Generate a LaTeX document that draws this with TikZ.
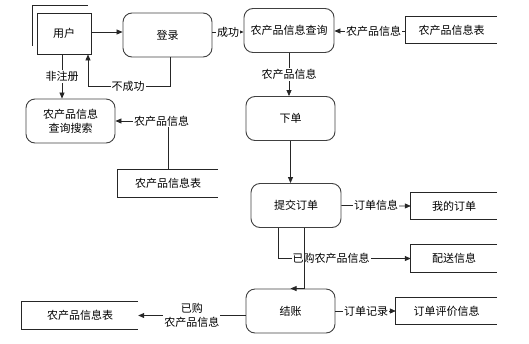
\documentclass[tikz,border=0pt]{standalone}
\usepackage{fontspec}
\newfontfamily\cjk{Noto Sans CJK SC}
\usetikzlibrary{arrows.meta}

\tikzset{
  proc/.style={draw=black!75, line width=0.9pt, rounded corners=9pt,
    minimum width=89pt, minimum height=44pt, inner sep=0pt, align=center},
  entity/.style={draw=black!85, line width=0.7pt, minimum width=54pt,
    minimum height=41pt, inner sep=0pt},
  store/.style={minimum width=#1, minimum height=26pt, inner sep=0pt},
  lbl/.style={fill=white, inner sep=1pt, align=center},
  flow/.style={->, draw=black!85, line width=0.7pt}
}

\begin{document}
\begin{tikzpicture}[x=1pt, y=-1pt, >={Triangle[length=6pt,width=5pt]},
    font=\cjk\fontsize{11}{14}\selectfont]
  \useasboundingbox (0,0) rectangle (529,343);

  % processes and entities
  \node[entity] (yh) at (64,33.5) {用户};
  \draw[black!85, line width=0.7pt] (32,46) |- (88,5);
  \node[proc] (dl) at (167.5,35) {登录};
  \node[proc, minimum width=90pt] (cx) at (289,30.5) {农产品信息查询};
  \node[proc] (xd) at (290.5,118.5) {下单};
  \node[proc] (ss) at (70.5,121) {农产品信息\\查询搜索};
  \node[proc, minimum width=90pt] (tj) at (296,205.5) {提交订单};
  \node[proc] (jz) at (290.5,311) {结账};

  % data stores
  \node[store=91pt] (bt1) at (451.5,30) {农产品信息表};
  \node[store=100pt, minimum height=27pt] (bt2) at (168,183.5) {农产品信息表};
  \node[store=86pt] (wd) at (454,206) {我的订单};
  \node[store=86pt, minimum height=27pt] (ps) at (454,258.5) {配送信息};
  \node[store=101pt] (pj) at (446.5,311) {订单评价信息};
  \node[store=116pt, minimum height=27pt] (bt3) at (80,315.5) {农产品信息表};
  \foreach \n in {bt1,bt2,wd,ps,pj,bt3}
    \draw[black!85, line width=0.7pt] (\n.north east) -- (\n.north west)
      -- (\n.south west) -- (\n.south east);

  % flows
  \coordinate (c1) at (88,86);
  \draw[flow] (yh.east |- 0,32) -- (dl.west |- 0,32);
  \draw[flow] (dl.east |- 0,32) -- node[lbl] {成功} (cx.west |- 0,32);
  \draw[flow] (bt1.west |- 0,31) -- node[lbl, pos=0.45] {农产品信息} (cx.east |- 0,31);
  \draw[flow] ([xshift=-2pt]yh.south) -- node[lbl, pos=0.5] {非注册}
    ([xshift=-2pt]yh.south |- ss.north);
  \draw[flow] ([xshift=2.5pt]dl.south) |- node[lbl, pos=0.756] {不成功} (c1)
    -- (c1 |- yh.south);
  \draw[flow] (cx.south) -- node[lbl] {农产品信息} (cx.south |- xd.north);
  \draw[flow] (bt2.north) |- node[lbl, pos=0.56] {农产品信息} (ss.east);
  \draw[flow] (xd.south) -- (xd.south |- tj.north);
  \draw[flow] (tj.east) -- node[lbl] {订单信息} (wd.west);
  \draw[flow] ([xshift=-18pt]tj.south) |- node[lbl, pos=0.70] {已购农产品信息} (ps.west);
  \draw[flow] ([xshift=8pt]tj.south) |- (jz.north);
  \draw[flow] (jz.east) -- node[lbl, pos=0.51] {订单记录} (pj.west);
  \draw[flow] (jz.west |- bt3.east) -- node[lbl, pos=0.5] {已购\\农产品信息} (bt3.east);
\end{tikzpicture}
\end{document}
